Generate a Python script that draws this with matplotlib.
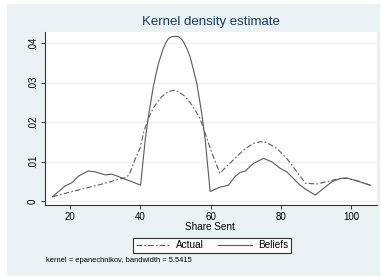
import matplotlib
matplotlib.use("Agg")
import matplotlib.pyplot as plt
from matplotlib.patches import Rectangle

plt.rcParams['font.family'] = ['Liberation Sans', 'DejaVu Sans']

# Data
actual_x = [15, 22.4, 30, 34.7, 36.2, 37.1, 38.5, 40, 41, 42.3, 43.7, 45, 46.1, 48, 50,
            52.3, 53.5, 54.7, 57, 58.5, 60.4, 62.7, 64.5, 66.5, 69.4, 72.2, 74.1, 76,
            78.9, 81.7, 84.6, 87, 90.3, 93.1, 96.9, 98.8, 101.7, 105.5]
actual_y = [.0011, .0028, .0045, .0057, .0060, .0072, .0105, .0135, .0175, .0209,
            .0235, .0252, .0264, .0277, .0281, .0268, .0257, .0243, .0209, .0171,
            .0121, .0070, .0087, .0104, .0129, .0146, .0150, .0148, .0133, .0108,
            .0074, .0045, .0043, .0049, .0057, .0058, .0051, .0040]

beliefs_x = [15, 18.6, 20.5, 22.4, 25.2, 27.1, 30, 31.9, 33.8, 35.7, 37.6, 40.1,
             41.4, 42.3, 43.7, 45.2, 46.6, 47.3, 48, 49, 49.9, 50.9, 51.6, 52.3, 53.2,
             54.2, 56.1, 57.5, 58.5, 59.9, 62.7, 65.1, 67, 68.4, 69.9, 72.2, 75.1,
             77.5, 79.8, 81.7, 83.6, 85.5, 87.4, 89.8, 92.2, 94.6, 96.9, 98.8, 101.7,
             105.5]
beliefs_y = [.0011, .0038, .0046, .0063, .0076, .0074, .0066, .0068, .0062, .0055,
             .0049, .0040, .0154, .0213, .0289, .0349, .0387, .0401, .0411, .0416,
             .0417, .0416, .0411, .0403, .0387, .0365, .0298, .0222, .0154, .0024,
             .0035, .0040, .0062, .0072, .0076, .0095, .0108, .0099, .0083, .0074,
             .0057, .0040, .0028, .0015, .0032, .0049, .0057, .0058, .0051, .0040]

xticks = [20, 40, 60, 80, 100]
yticks = [0, .01, .02, .03, .04]
ytick_labels = ['0', '.01', '.02', '.03', '.04']

title = 'Kernel density estimate'
xlabel = 'Share Sent'
note = 'kernel = epanechnikov, bandwidth = 5.5415'

W, H = 381, 278
fig = plt.figure(figsize=(W / 100, H / 100), dpi=100, facecolor='white')
bg = '#eaf2f3'
fig.patches.append(Rectangle((7 / W, 2 / H), (W - 8) / W, (H - 6) / H,
                             transform=fig.transFigure, facecolor=bg,
                             edgecolor='none', zorder=-10))

ax = fig.add_axes([45 / W, 1 - 205 / H, (377 - 45) / W, (205 - 31.7) / H])
ax.set_zorder(1)
ax.set_facecolor('white')
ax.set_xlim(12.88, 107.4)
ax.set_ylim(-0.00101, 0.04286)

for yv in yticks:
    ax.axhline(yv, color=bg, lw=1.0, zorder=1)

lc = '#5a5a5a'
ax.plot(actual_x, actual_y, color=lc, lw=0.8, dashes=(5, 2, 1.5, 2), label='Actual', zorder=3)
ax.plot(beliefs_x, beliefs_y, color=lc, lw=0.8, linestyle='-', label='Beliefs', zorder=3)

ax.set_xticks(xticks)
ax.set_yticks(yticks)
ax.set_yticklabels(ytick_labels, rotation=90, va='center')
ax.tick_params(axis='both', labelsize=7, length=3.2, width=0.7, color='#333333', pad=2)
for s in ['top', 'right']:
    ax.spines[s].set_visible(False)
for s in ['left', 'bottom']:
    ax.spines[s].set_color('#333333')
    ax.spines[s].set_linewidth(0.8)

fig.text(211 / W, 1 - 22 / H, title, ha='center', va='center', fontsize=9.5, color='#1a3a66')
fig.text(210 / W, 1 - 227.5 / H, xlabel, ha='center', va='center', fontsize=7.2, color='black')
fig.text(46 / W, 1 - 261 / H, note, ha='left', va='center', fontsize=5.4, color='black')

leg = fig.legend(loc='center', bbox_to_anchor=(212 / W, 1 - 245 / H), ncol=2,
                 fontsize=7.2, frameon=True, fancybox=False, handlelength=3.4,
                 columnspacing=1.5, handletextpad=0.6, borderpad=0.25,
                 borderaxespad=0)
leg.get_frame().set_edgecolor('black')
leg.get_frame().set_linewidth(0.8)
leg.get_frame().set_facecolor('white')

fig.savefig('out.png', dpi=100, facecolor='white')
